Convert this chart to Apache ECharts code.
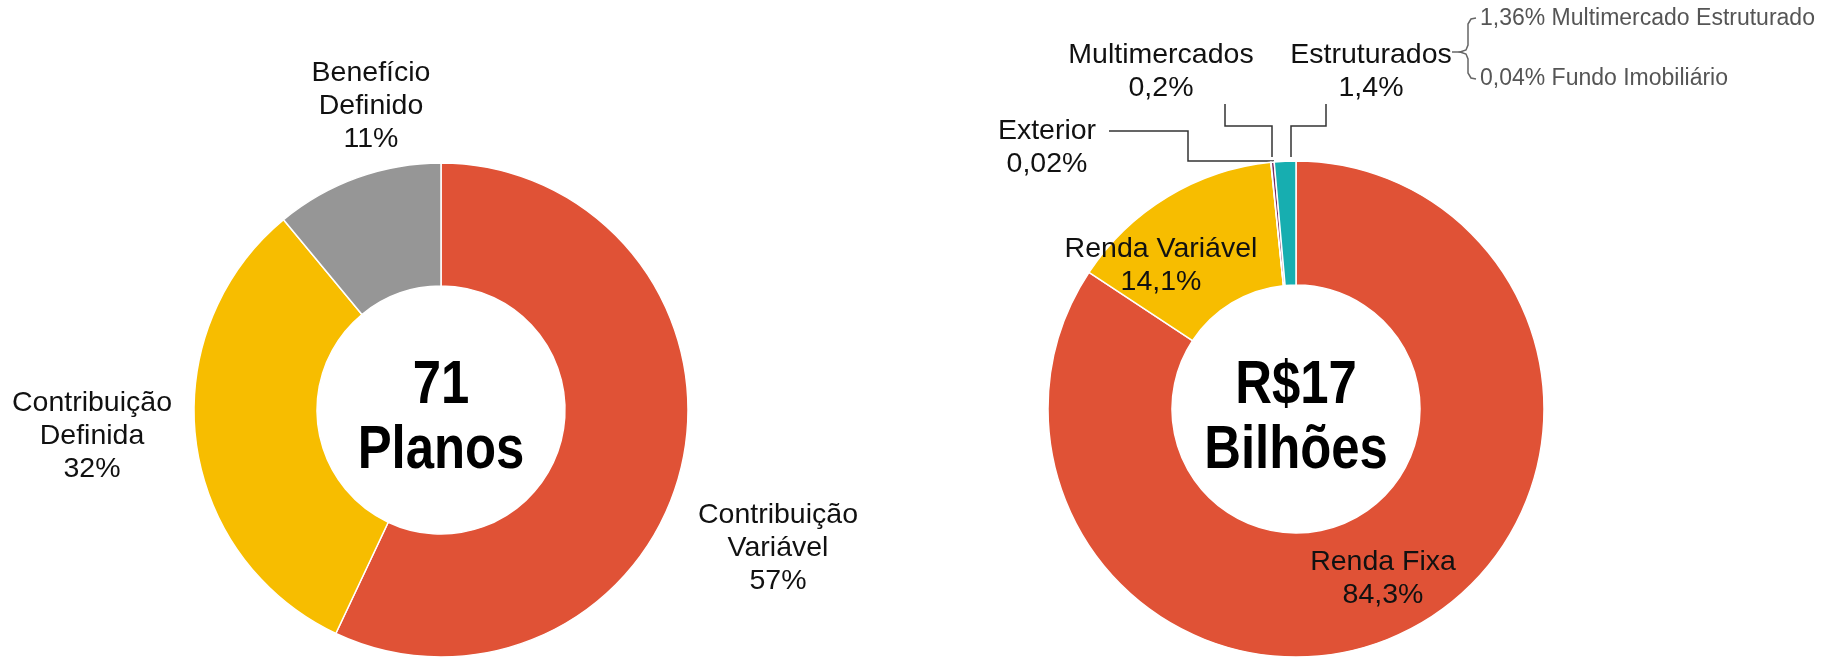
<!DOCTYPE html>
<html>
<head>
<meta charset="utf-8">
<title>Planos e Carteira</title>
<script src="https://cdn.jsdelivr.net/npm/echarts@6/dist/echarts.min.js"></script>
<style>
  html, body { margin: 0; padding: 0; background: #fff; }
  #chart { width: 1830px; height: 662px; }
</style>
</head>
<body>
<div id="chart"></div>
<script>
// planos por modalidade (%)
const planNames = ['Contribuição\nVariável', 'Contribuição\nDefinida', 'Benefício\nDefinido'];
const planValues = [57, 32, 11];
const planColors = ['#E05236', '#F7BD00', '#969696'];

// carteira por segmento (%)
const assetNames = ['Renda Fixa', 'Renda Variável', 'Exterior', 'Multimercados', 'Estruturados'];
const assetValues = [84.3, 14.1, 0.02, 0.2, 1.4];
const assetColors = ['#E05236', '#F7BD00', '#8E3A7E', '#7B2C5E', '#17AEB0'];

// detalhe de Estruturados
const detailTexts = ['1,36% Multimercado Estruturado', '0,04% Fundo Imobiliário'];

// onde ficam os rótulos (layout, não dados)
const planLabelPos = [[778, 548], [92, 436], [371, 106]];
const assetLabelPos = [[1383, 579], [1161, 266], [1047, 148], [1161, 72], [1371, 72]];
const assetLeaders = [
  null,
  null,
  [[1109, 131], [1188, 131], [1188, 161], [1274, 161]],
  [[1225, 104], [1225, 126], [1272, 126], [1272, 157]],
  [[1326, 104], [1326, 126], [1291, 126], [1291, 157]]
];

const FONT = "'Liberation Sans', Arial, sans-serif";
const fmt = (v) => String(v).replace('.', ',') + '%';

const chart = echarts.init(document.getElementById('chart'));

const centerText = (x, txt) => ({
  type: 'text', x: x, y: 418, scaleX: 0.82,
  style: {
    text: txt, fill: '#000', align: 'center', verticalAlign: 'middle',
    font: "bold 62px " + FONT, lineHeight: 65
  }
});

const labelStyle = {
  show: true,
  position: 'outside',
  color: '#111',
  fontFamily: FONT,
  fontSize: 28.5,
  lineHeight: 33,
  align: 'center',
  formatter: (p) => p.name + '\n' + fmt(p.value)
};

const option = {
  animation: false,
  backgroundColor: '#fff',
  series: [
    {
      type: 'pie',
      center: [441, 410],
      radius: [124, 247],
      startAngle: 90,
      avoidLabelOverlap: false,
      itemStyle: { borderColor: '#fff', borderWidth: 1.5 },
      label: labelStyle,
      labelLine: { show: false },
      labelLayout: (p) => ({
        x: planLabelPos[p.dataIndex][0],
        y: planLabelPos[p.dataIndex][1],
        align: 'center',
        verticalAlign: 'middle'
      }),
      emphasis: { disabled: true },
      data: planNames.map((n, i) => ({ name: n, value: planValues[i], itemStyle: { color: planColors[i] } }))
    },
    {
      type: 'pie',
      center: [1296, 409],
      radius: [124, 248],
      startAngle: 90,
      avoidLabelOverlap: false,
      itemStyle: { borderColor: '#fff', borderWidth: 1.5 },
      label: labelStyle,
      labelLine: { show: true, lineStyle: { color: '#333', width: 1.5 } },
      labelLayout: (p) => {
        const o = {
          x: assetLabelPos[p.dataIndex][0],
          y: assetLabelPos[p.dataIndex][1],
          align: 'center',
          verticalAlign: 'middle'
        };
        if (assetLeaders[p.dataIndex]) o.labelLinePoints = assetLeaders[p.dataIndex];
        return o;
      },
      emphasis: { disabled: true },
      data: assetNames.map((n, i) => ({
        name: n,
        value: assetValues[i],
        itemStyle: { color: assetColors[i] },
        labelLine: { show: !!assetLeaders[i] }
      }))
    }
  ],
  graphic: [
    centerText(441, '71\nPlanos'),
    centerText(1296, 'R$17\nBilhões'),
    // chave ligando Estruturados ao detalhamento
    {
      type: 'polyline',
      shape: { points: [[1452, 52], [1461, 52]] },
      style: { fill: null, stroke: '#666', lineWidth: 1.5 }
    },
    {
      type: 'polyline',
      shape: { points: [[1476, 18], [1471, 19], [1468, 24], [1468, 45], [1466, 50], [1460, 52], [1466, 54], [1468, 59], [1468, 73], [1471, 78], [1476, 79]] },
      style: { fill: null, stroke: '#666', lineWidth: 1.5 }
    },
    {
      type: 'text', x: 1480, y: 19,
      style: { text: detailTexts[0], fill: '#555', font: "23px " + FONT, verticalAlign: 'middle' }
    },
    {
      type: 'text', x: 1480, y: 79,
      style: { text: detailTexts[1], fill: '#555', font: "23px " + FONT, verticalAlign: 'middle' }
    }
  ]
};

chart.setOption(option);
</script>
</body>
</html>
